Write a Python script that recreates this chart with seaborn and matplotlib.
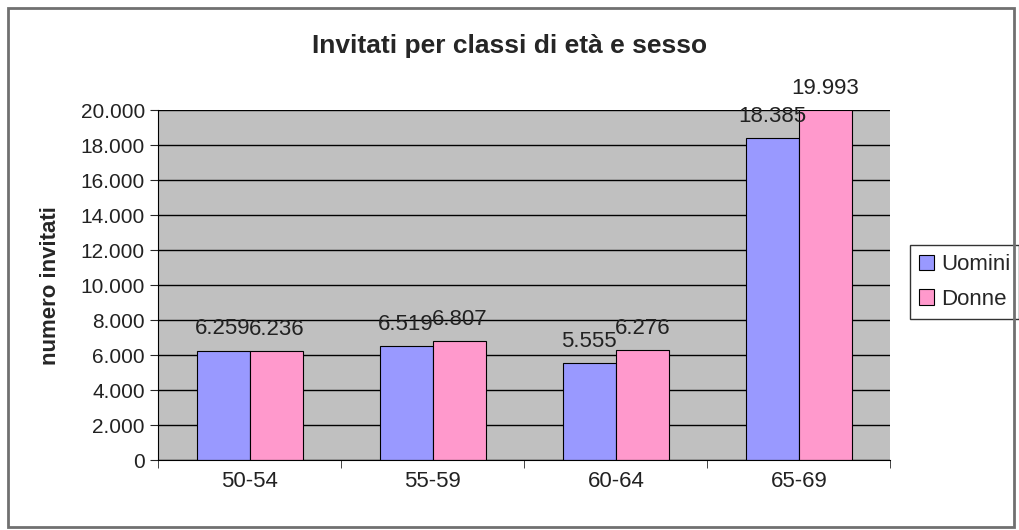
import pandas as pd
import matplotlib.pyplot as plt
import seaborn as sns
from matplotlib.patches import Rectangle

# Data
classi = ["50-54", "55-59", "60-64", "65-69"]
uomini = [6259, 6519, 5555, 18385]
donne = [6236, 6807, 6276, 19993]

df = pd.DataFrame({
    "classe": classi * 2,
    "sesso": ["Uomini"] * 4 + ["Donne"] * 4,
    "invitati": uomini + donne,
})

sns.set_style("white")
plt.rcParams["font.family"] = ["Liberation Sans", "DejaVu Sans"]

fig = plt.figure(figsize=(10.2, 5.3), dpi=100)
fig.patches.append(Rectangle((0.008, 0.006), 0.986, 0.978, transform=fig.transFigure,
                             fill=False, edgecolor="#707070", linewidth=2))

ax = fig.add_axes([0.155, 0.132, 0.718, 0.66])
ax.set_facecolor("#C0C0C0")

sns.barplot(data=df, x="classe", y="invitati", hue="sesso",
            palette=["#9999FF", "#FF99CC"], width=0.58, ax=ax,
            edgecolor="black", linewidth=0.8, saturation=1)

fmt = lambda v: f"{int(v):,}".replace(",", ".")
for cont in ax.containers:
    ax.bar_label(cont, labels=[fmt(v) for v in cont.datavalues], fontsize=16,
                 padding=8, color="#222222")

ax.set_ylim(0, 20000)
ax.set_xlim(-0.5, 3.5)
ax.set_yticks(range(0, 20001, 2000))
ax.set_yticklabels([fmt(v) for v in range(0, 20001, 2000)], fontsize=15, color="#222222")
# category ticks between groups, like the original
ax.set_xticks([-0.5, 0.5, 1.5, 2.5, 3.5], minor=True)
ax.tick_params(axis="x", which="major", labelsize=16, length=0, pad=8, labelcolor="#222222")
ax.tick_params(axis="x", which="minor", length=6, direction="out", bottom=True)
ax.tick_params(axis="y", length=6, direction="out", left=True)
ax.yaxis.grid(True, color="black", linewidth=1)
ax.set_axisbelow(True)
for s in ["top", "right"]:
    ax.spines[s].set_visible(False)
ax.spines["left"].set_color("black")
ax.spines["bottom"].set_color("black")

ax.set_xlabel("")
ax.set_ylabel("numero invitati", fontsize=16, fontweight="bold", labelpad=14)
fig.text(0.5, 0.9, "Invitati per classi di età e sesso", ha="center",
         fontsize=19, fontweight="bold")

leg = ax.legend(title=None, loc="center left", bbox_to_anchor=(0.892, 0.468),
                bbox_transform=fig.transFigure, fontsize=16, frameon=True,
                fancybox=False, edgecolor="black", handlelength=0.7,
                handleheight=0.7, handletextpad=0.3, borderpad=0.4,
                labelspacing=0.6, borderaxespad=0)

fig.savefig("out.png", dpi=100)
